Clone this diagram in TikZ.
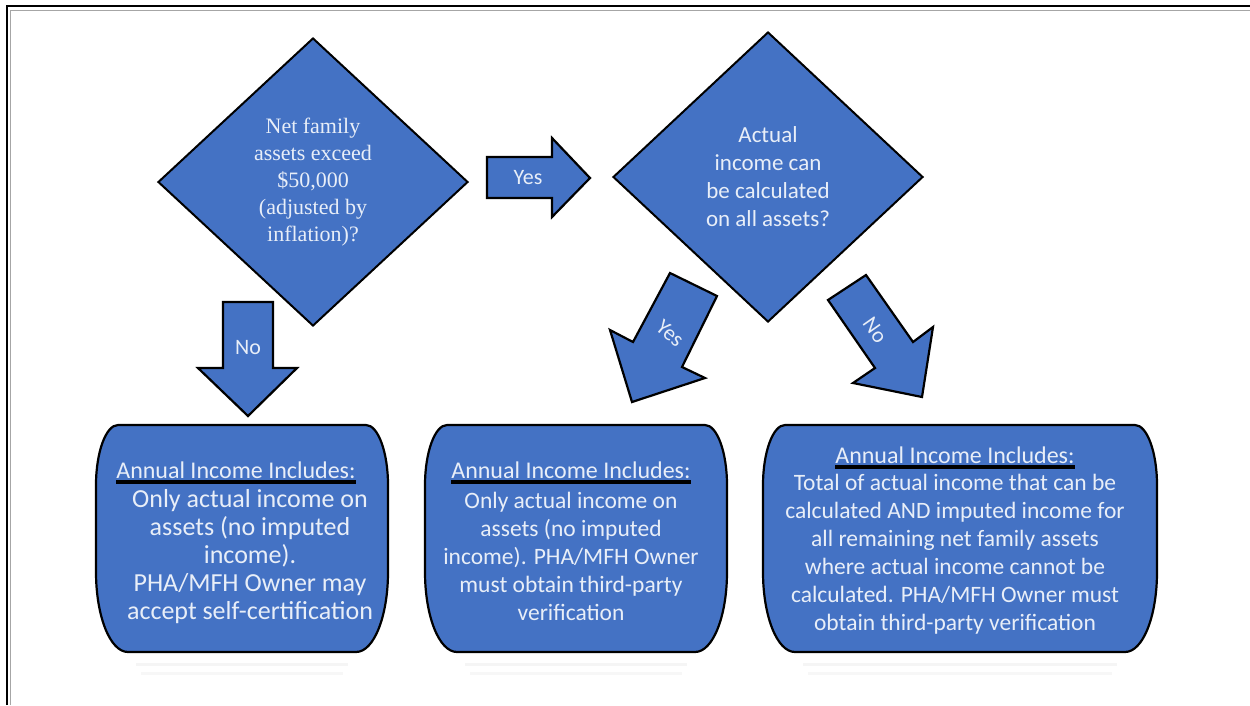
\documentclass[tikz,border=0pt]{standalone}
\usepackage{fontspec}
\setmainfont{Carlito}
\newfontfamily\timesq{Liberation Serif}
\usetikzlibrary{shapes.geometric}

\definecolor{boxblue}{RGB}{68,114,196}
\definecolor{paletext}{RGB}{232,238,248}

\tikzset{
  question/.style={diamond, fill=boxblue, draw=black, line width=2pt,
    text=paletext, align=center, inner sep=0pt},
  blockarrow/.style={fill=boxblue, draw=black, line width=2.2pt, line join=miter},
  arrowlabel/.style={text=paletext, font=\fontsize{22}{26}\selectfont, inner sep=0pt},
  heading/.style={text=paletext, font=\fontsize{24}{28}\selectfont, inner sep=0pt, anchor=base},
  underline/.style={line width=3.5pt},
  bodytext/.style={text=paletext, align=center, inner sep=0pt},
  capsule/.style={fill=boxblue, draw=black, line width=2.2pt}
}

% outcome box: left x, right x
\newcommand\outcomebox[2]{%
  \draw[gray!8, line width=3pt] (#1+40,664) -- (#2-40,664);
  \draw[gray!6, line width=3pt] (#1+45,673) -- (#2-45,673);
  \draw[capsule] (#1+22,425) -- (#2-22,425)
    .. controls (#2-10,425) and (#2,452) .. (#2,485)
    -- (#2,572)
    .. controls (#2,616) and (#2-14,652) .. (#2-32,652)
    -- (#1+32,652)
    .. controls (#1+14,652) and (#1,616) .. (#1,572)
    -- (#1,485)
    .. controls (#1,452) and (#1+10,425) .. (#1+22,425) -- cycle;}

\begin{document}
\begin{tikzpicture}[x=1pt,y=-1pt]
  \useasboundingbox[fill=white] (0,0) rectangle (1250,705);

  % frame
  \draw[line width=2pt] (7,705) -- (7,6) -- (1250,6);
  \draw[gray!70, line width=1.2pt] (10.5,705) -- (10.5,10.5) -- (1250,10.5);

  % questions
  \node[question, minimum width=310pt, minimum height=288pt,
    font=\timesq\fontsize{22}{27}\selectfont] (q1) at (313,182)
    {Net family\\assets exceed\\\$50,000\\(adjusted by\\inflation)?};
  \node[question, minimum width=310pt, minimum height=290pt,
    font=\fontsize{23}{28}\selectfont] (q2) at (768,177)
    {Actual\\income can\\be calculated\\on all assets?};

  % block arrows
  \draw[blockarrow] (487,157) -- (552,157) -- (552,138) -- (590,178)
    -- (552,217) -- (552,198) -- (487,198) -- cycle;
  \node[arrowlabel] (yesright) at (528,178) {Yes};

  \draw[blockarrow] (223,302) -- (273,302) -- (273,368) -- (297,368)
    -- (248,416) -- (198,368) -- (223,368) -- cycle;
  \node[arrowlabel] (nodown) at (248,348) {No};

  \draw[blockarrow] (670,273) -- (717,296) -- (682,367) -- (705,378)
    -- (632,402) -- (610,330) -- (633,342) -- cycle;
  \node[arrowlabel, rotate=-40] (yesleft) at (670,333) {Yes};

  \draw[blockarrow] (866,275) -- (913,342) -- (933,327) -- (922,397)
    -- (853,383) -- (875,368) -- (828,300) -- cycle;
  \node[arrowlabel, rotate=-55] (noright) at (875,330) {No};

  % outcomes
  \outcomebox{96}{388}
  \outcomebox{425}{727}
  \outcomebox{763}{1157}

  \node[heading] (h1) at (236,478) {Annual Income Includes:};
  \draw[underline] ([yshift=-4pt]h1.base west) -- ([yshift=-4pt]h1.base east);
  \node[bodytext, font=\fontsize{26}{28}\selectfont] (b1) at (250,557)
    {Only actual income on\\assets (no imputed\\income).\\PHA/MFH Owner may\\accept self-certification};

  \node[heading] (h2) at (571,478) {Annual Income Includes:};
  \draw[underline] ([yshift=-4pt]h2.base west) -- ([yshift=-4pt]h2.base east);
  \node[bodytext, font=\fontsize{23.5}{28}\selectfont] (b2) at (571,556)
    {Only actual income on\\assets (no imputed\\income). PHA/MFH Owner\\must obtain third-party\\verification};

  \node[heading] (h3) at (955,463) {Annual Income Includes:};
  \draw[underline] ([yshift=-4pt]h3.base west) -- ([yshift=-4pt]h3.base east);
  \node[bodytext, font=\fontsize{23.5}{28}\selectfont] (b3) at (955,554)
    {Total of actual income that can be\\calculated AND imputed income for\\all remaining net family assets\\where actual income cannot be\\calculated. PHA/MFH Owner must\\obtain third-party verification};
\end{tikzpicture}
\end{document}
